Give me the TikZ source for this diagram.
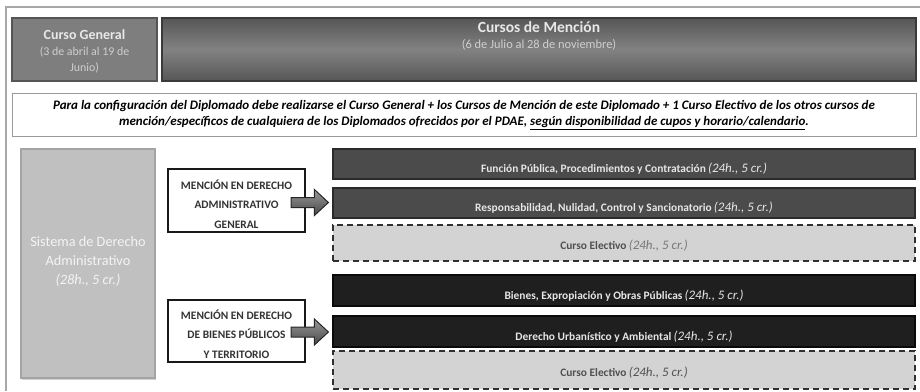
\documentclass[tikz,border=0pt]{standalone}
\usepackage{fontspec}
\setmainfont{Carlito}
\usetikzlibrary{shadows,calc}
\definecolor{frameC}{HTML}{A8A8A8}
\definecolor{hdrAfill}{HTML}{7E7E7E}
\definecolor{hdrAline}{HTML}{555555}
\definecolor{hdrBfill}{HTML}{6C6C6C}
\definecolor{hdrBline}{HTML}{3A3A3A}
\definecolor{hdrtxt}{HTML}{E8E8E8}
\definecolor{hdrtxtb}{HTML}{CFCFCF}
\definecolor{noteline}{HTML}{9A9A9A}
\definecolor{sistfill}{HTML}{C0C0C0}
\definecolor{sistline}{HTML}{A4A4A4}
\definecolor{sisttxt}{HTML}{F4F4F4}
\definecolor{cdfill}{HTML}{4B4B4B}
\definecolor{cdline}{HTML}{2A2A2A}
\definecolor{cbfill}{HTML}{1F1F1F}
\definecolor{cbline}{HTML}{0A0A0A}
\definecolor{cefill}{HTML}{D3D3D3}
\definecolor{celine}{HTML}{303030}
\definecolor{cetxt}{HTML}{505050}
\definecolor{cetxtit}{HTML}{777777}
\definecolor{lighttxt}{HTML}{E6E6E6}
\newcommand{\crsb}[1]{{\fontsize{11.4}{13}\selectfont\bfseries #1}}
\newcommand{\crsi}[1]{{\fontsize{13}{15}\selectfont\itshape #1}}
\begin{document}
\begin{tikzpicture}[x=1pt,y=-1pt,
  framesty/.style={draw=frameC, line width=2pt},
  softshadow/.style={drop shadow={shadow xshift=0.8pt, shadow yshift=-0.8pt, opacity=0.3}},
  hdrA/.style={rectangle, inner sep=0pt, fill=hdrAfill, draw=hdrAline, line width=1.2pt, softshadow},
  hdrB/.style={rectangle, inner sep=0pt, top color=hdrBfill!80!black, bottom color=hdrBfill!80!black, middle color=hdrBfill!85!white, draw=hdrBline, line width=1.2pt, softshadow},
  htxt/.style={inner sep=0pt, align=center, text=hdrtxt},
  notebox/.style={rectangle, inner sep=0pt, fill=white, draw=noteline, line width=1pt},
  sist/.style={rectangle, inner sep=0pt, fill=sistfill, draw=sistline, line width=1.5pt, drop shadow={shadow xshift=1.2pt, shadow yshift=-1.5pt, opacity=0.35}},
  menc/.style={rectangle, inner sep=0pt, fill=white, draw=black!90, line width=2pt},
  mtxt/.style={inner sep=0pt, align=center, text=black!80, font=\fontsize{11.4}{19.5}\selectfont\bfseries},
  cdark/.style={rectangle, inner sep=0pt, fill=cdfill, draw=cdline, line width=1.2pt, minimum width=582, softshadow},
  cblack/.style={rectangle, inner sep=0pt, fill=cbfill, draw=cbline, line width=1.2pt, minimum width=582, softshadow},
  celec/.style={rectangle, inner sep=0pt, fill=cefill, draw=celine, line width=1.5pt, dash pattern=on 6pt off 4pt, minimum width=582},
  ctxt/.style={inner sep=0pt, text=lighttxt},
  etxt/.style={inner sep=0pt, text=cetxt},
  arrowsty/.style={draw=black!85, line width=1pt, top color=black!40, bottom color=black!72},
]
\useasboundingbox (0,0) rectangle (920,391);
\fill[white] (0,0) rectangle (920,391);
\draw[framesty] (6,391) -- (6,7) -- (920,7);

% headers
\node[hdrA, minimum width=145, minimum height=63] (hA) at (84.5,49.5) {};
\node[htxt, font=\fontsize{11.9}{16}\selectfont] (hAt) at (84.5,51)
  {{\fontsize{14}{16}\selectfont\bfseries Curso General}\\ \textcolor{hdrtxtb}{(3 de abril al 19 de}\\ \textcolor{hdrtxtb}{Junio)}};
\node[hdrB, minimum width=754, minimum height=63] (hB) at (539,49.5) {};
\node[htxt, font=\fontsize{12.4}{16}\selectfont] (hBt) at (539,35.5)
  {{\fontsize{15.5}{16}\selectfont\bfseries Cursos de Mención}\\ \textcolor{hdrtxtb}{(6 de Julio al 28 de noviembre)}};

% note
\node[notebox, minimum width=904, minimum height=43] (nt) at (464,114.5) {};
\node[inner sep=0pt, align=center, font=\fontsize{13}{16}\selectfont\bfseries\itshape] (ntt) at (464,115)
  {Para la configuración del Diplomado debe realizarse el Curso General + los Cursos de Mención de este Diplomado + 1 Curso Electivo de los otros cursos de\\
   mención/específicos de cualquiera de los Diplomados ofrecidos por el PDAE, \underline{según disponibilidad de cupos y horario/calendario}.};

% sistema
\node[sist, minimum width=134, minimum height=229] (sis) at (88,263.5) {};
\node[inner sep=0pt, align=center, text=sisttxt, font=\fontsize{14.3}{19}\selectfont] (sist) at (88,262)
  {Sistema de Derecho\\Administrativo\\{\itshape (28h., 5 cr.)}};

% mencion boxes
\node[menc, minimum width=137, minimum height=63] (m1) at (236.5,200.5) {};
\node[mtxt] (m1t) at (236.5,204) {MENCIÓN EN DERECHO\\ADMINISTRATIVO\\GENERAL};
\node[menc, minimum width=137, minimum height=62] (m2) at (236.5,331) {};
\node[mtxt] (m2t) at (236.5,334) {MENCIÓN EN DERECHO\\DE BIENES PÚBLICOS\\Y TERRITORIO};

% course boxes
\node[cdark, minimum height=30] (c1) at (624,164) {};
\node[ctxt] (c1t) at ([yshift=-5pt]c1.center) {\crsb{Función Pública, Procedimientos y Contratación} \crsi{(24h., 5 cr.)}};
\node[cdark, minimum height=30] (c2) at (624,203) {};
\node[ctxt] (c2t) at ([yshift=-5pt]c2.center) {\crsb{Responsabilidad, Nulidad, Control y Sancionatorio} \crsi{(24h., 5 cr.)}};
\node[celec, minimum height=36] (c3) at (624,243) {};
\node[etxt] (c3t) at ([yshift=-3pt]c3.center) {\crsb{Curso Electivo} \textcolor{cetxtit}{\crsi{(24h., 5 cr.)}}};
\node[cblack, minimum height=31] (c4) at (624,290.5) {};
\node[ctxt] (c4t) at ([yshift=-5pt]c4.center) {\crsb{Bienes, Expropiación y Obras Públicas} \crsi{(24h., 5 cr.)}};
\node[cblack, minimum height=31] (c5) at (624,331.5) {};
\node[ctxt] (c5t) at ([yshift=-5pt]c5.center) {\crsb{Derecho Urbanístico y Ambiental} \crsi{(24h., 5 cr.)}};
\node[celec, minimum height=38] (c6) at (624,370) {};
\node[etxt] (c6t) at ([yshift=-3pt]c6.center) {\crsb{Curso Electivo} \crsi{(24h., 5 cr.)}};

% arrows
\draw[arrowsty] ($(m1.east)+(-15,-3)$) -- ($(m1.east -| c2.west)+(-18,-3)$) -- ($(m1.east -| c2.west)+(-18,-11)$)
  -- ($(m1.east -| c2.west)+(-4,2)$) -- ($(m1.east -| c2.west)+(-18,15)$) -- ($(m1.east -| c2.west)+(-18,7)$)
  -- ($(m1.east)+(-15,7)$) -- cycle;
\draw[arrowsty] ($(m2.east)+(-15,-4)$) -- ($(m2.east -| c5.west)+(-18,-4)$) -- ($(m2.east -| c5.west)+(-18,-12)$)
  -- ($(m2.east -| c5.west)+(-4,1)$) -- ($(m2.east -| c5.west)+(-18,14)$) -- ($(m2.east -| c5.west)+(-18,6)$)
  -- ($(m2.east)+(-15,6)$) -- cycle;
\end{tikzpicture}
\end{document}
